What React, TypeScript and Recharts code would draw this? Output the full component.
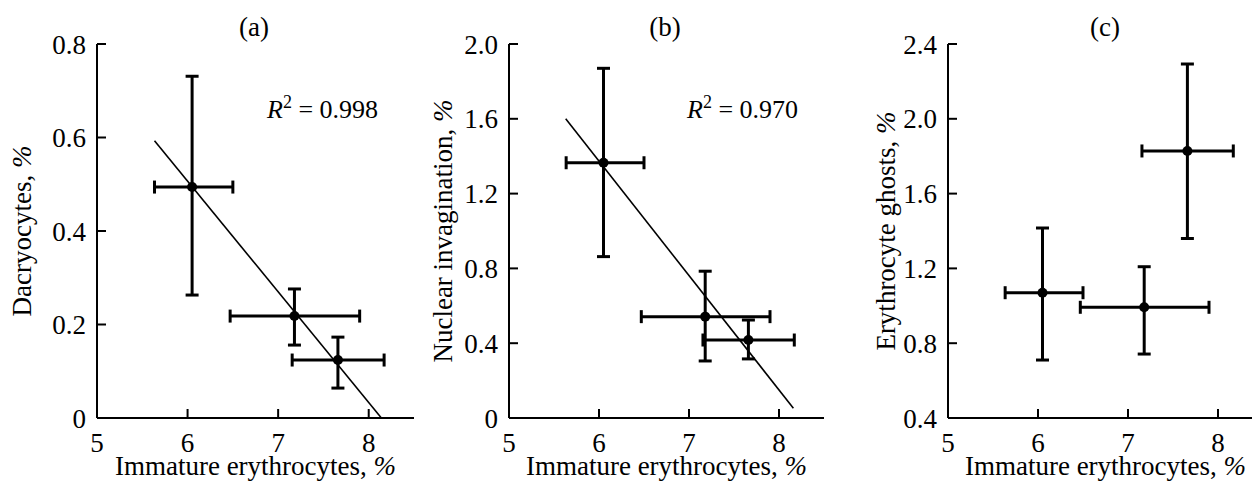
import React from 'react';
import { ScatterChart, Scatter, XAxis, YAxis, ErrorBar, ReferenceLine, Label } from 'recharts';

// Immature erythrocytes, % (shared x values for all three panels)
const immatureMean = [6.05, 7.18, 7.66];
const immatureLow = [5.635, 6.47, 7.155];
const immatureHigh = [6.5, 7.9, 8.17];

// (a) Dacryocytes, %
const dacryoMean = [0.494, 0.218, 0.124];
const dacryoLow = [0.263, 0.156, 0.064];
const dacryoHigh = [0.731, 0.276, 0.173];
const dacryoFit = [
  { x: 5.635, y: 0.593 },
  { x: 8.14, y: 0 },
];

// (b) Nuclear invagination, %
const nuclearMean = [1.365, 0.542, 0.417];
const nuclearLow = [0.863, 0.305, 0.316];
const nuclearHigh = [1.87, 0.785, 0.524];
const nuclearFit = [
  { x: 5.63, y: 1.6 },
  { x: 8.16, y: 0.052 },
];

// (c) Erythrocyte ghosts, %
const ghostMean = [1.07, 0.992, 1.828];
const ghostLow = [0.71, 0.742, 1.36];
const ghostHigh = [1.416, 1.209, 2.293];

const xTicks = [5, 6, 7, 8];
const ticksA = [0, 0.2, 0.4, 0.6, 0.8];
const ticksB = [0, 0.4, 0.8, 1.2, 1.6, 2.0];
const ticksC = [0.4, 0.8, 1.2, 1.6, 2.0, 2.4];

const FONT = '"Liberation Serif", "DejaVu Serif", serif';
const FS = 27;

function buildRows(mean: number[], low: number[], high: number[]) {
  return mean.map((m, i) => ({
    x: immatureMean[i],
    y: m,
    ex: [immatureMean[i] - immatureLow[i], immatureHigh[i] - immatureMean[i]],
    ey: [m - low[i], high[i] - m],
  }));
}

const Dot = (props: any) => <circle cx={props.cx} cy={props.cy} r={5} fill="#000" />;

interface PanelProps {
  left: number;
  width: number;
  axisWidth: number;
  rightMargin: number;
  yDomain: [number, number];
  yTicks: number[];
  yLabel: string;
  yLabelX: number;
  rows: any[];
  fit?: { x: number; y: number }[];
}

function Panel({ left, width, axisWidth, rightMargin, yDomain, yTicks, yLabel, yLabelX, rows, fit }: PanelProps) {
  const tickStyle = { fill: '#000', fontSize: FS, fontFamily: FONT };
  return (
    <div style={{ position: 'absolute', left, top: 0 }}>
      <ScatterChart width={width} height={487} margin={{ top: 44, right: rightMargin, bottom: 0, left: 0 }}>
        <XAxis
          type="number"
          dataKey="x"
          domain={[5, 8.5]}
          ticks={xTicks}
          allowDataOverflow
          height={69}
          tick={tickStyle}
          tickSize={-9}
          tickMargin={24}
          axisLine={{ stroke: '#000', strokeWidth: 2 }}
          tickLine={{ stroke: '#000', strokeWidth: 2 }}
        >
          <Label
            content={({ viewBox }: any) => (
              <text
                x={viewBox.x + viewBox.width / 2}
                y={viewBox.y + 57}
                textAnchor="middle"
                style={{ fontFamily: FONT, fontSize: FS }}
                fill="#000"
              >
                Immature erythrocytes, <tspan fontStyle="italic">%</tspan>
              </text>
            )}
          />
        </XAxis>
        <YAxis
          type="number"
          dataKey="y"
          domain={yDomain}
          ticks={yTicks}
          allowDataOverflow
          width={axisWidth}
          tick={tickStyle}
          tickFormatter={(v: number) => (v === 0 ? '0' : v.toFixed(1))}
          tickSize={-9}
          tickMargin={20}
          axisLine={{ stroke: '#000', strokeWidth: 2 }}
          tickLine={{ stroke: '#000', strokeWidth: 2 }}
        >
          <Label
            content={({ viewBox }: any) => {
              const cy = viewBox.y + viewBox.height / 2;
              return (
                <text
                  x={yLabelX}
                  y={cy}
                  transform={`rotate(-90 ${yLabelX} ${cy})`}
                  textAnchor="middle"
                  style={{ fontFamily: FONT, fontSize: FS }}
                  fill="#000"
                >
                  {yLabel}, <tspan fontStyle="italic">%</tspan>
                </text>
              );
            }}
          />
        </YAxis>
        {fit && (
          <ReferenceLine
            segment={fit}
            stroke="#000"
            strokeWidth={1.6}
            ifOverflow="visible"
          />
        )}
        <Scatter data={rows} shape={<Dot />} isAnimationActive={false}>
          <ErrorBar dataKey="ey" direction="y" width={6.5} stroke="#000" strokeWidth={3} isAnimationActive={false} />
          <ErrorBar dataKey="ex" direction="x" width={6.5} stroke="#000" strokeWidth={3} isAnimationActive={false} />
        </Scatter>
      </ScatterChart>
    </div>
  );
}

function R2({ x, y, value }: { x: number; y: number; value: string }) {
  return (
    <text x={x} y={y} style={{ fontFamily: FONT, fontSize: 26 }} fill="#000">
      <tspan fontStyle="italic">R</tspan>
      <tspan style={{ fontSize: 18 }} dy={-10}>2</tspan>
      <tspan dy={10}>{` = ${value}`}</tspan>
    </text>
  );
}

export default function App() {
  return (
    <div
      style={{
        position: 'absolute',
        left: 0,
        top: 0,
        width: 1252,
        height: 487,
        overflow: 'hidden',
        background: '#fff',
        fontFamily: FONT,
      }}
    >
      <Panel
        left={0}
        width={420}
        axisWidth={97}
        rightMargin={6}
        yDomain={[0, 0.8]}
        yTicks={ticksA}
        yLabel="Dacryocytes"
        yLabelX={31}
        rows={buildRows(dacryoMean, dacryoLow, dacryoHigh)}
        fit={dacryoFit}
      />
      <Panel
        left={420}
        width={420}
        axisWidth={89}
        rightMargin={16}
        yDomain={[0, 2]}
        yTicks={ticksB}
        yLabel="Nuclear invagination"
        yLabelX={32}
        rows={buildRows(nuclearMean, nuclearLow, nuclearHigh)}
        fit={nuclearFit}
      />
      <Panel
        left={840}
        width={430}
        axisWidth={108}
        rightMargin={7}
        yDomain={[0.4, 2.4]}
        yTicks={ticksC}
        yLabel="Erythrocyte ghosts"
        yLabelX={55}
        rows={buildRows(ghostMean, ghostLow, ghostHigh)}
      />
      <svg
        width={1252}
        height={487}
        style={{ position: 'absolute', left: 0, top: 0, pointerEvents: 'none' }}
      >
        <g fill="#000" textAnchor="middle" style={{ fontFamily: FONT, fontSize: FS }}>
          <text x={254} y={36}>(a)</text>
          <text x={665} y={36}>(b)</text>
          <text x={1105} y={36}>(c)</text>
        </g>
        <R2 x={267} y={118} value="0.998" />
        <R2 x={687} y={118} value="0.970" />
      </svg>
    </div>
  );
}
